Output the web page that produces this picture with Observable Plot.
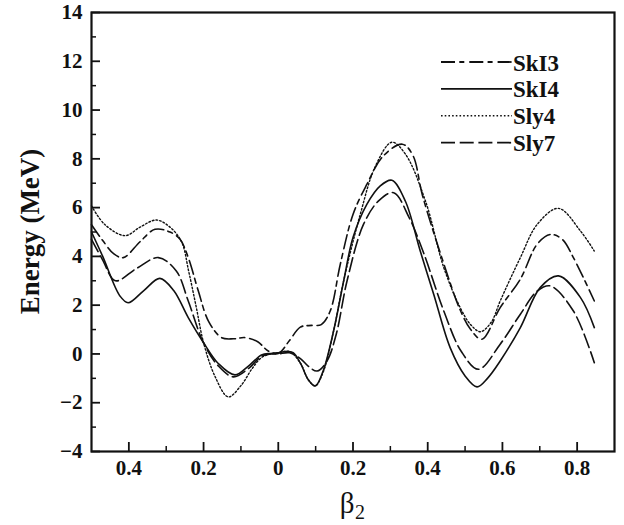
<!DOCTYPE html>
<html>
<head>
<meta charset="utf-8">
<script src="https://cdn.jsdelivr.net/npm/d3@7"></script>
<script src="https://cdn.jsdelivr.net/npm/@observablehq/plot@0.6"></script>
<style>
  body { margin: 0; background: #fff; }
</style>
</head>
<body>
<div id="chart"></div>
<script>
// ---- data ----
const seriesNames = ["SkI3", "SkI4", "Sly4", "Sly7"];

const skI3X = [-0.5,-0.47,-0.44,-0.415,-0.37,-0.33,-0.29,-0.263,-0.241,-0.214,-0.187,-0.152,-0.12,-0.089,-0.055,-0.027,0,0.03,0.059,0.09,0.115,0.139,0.166,0.2,0.237,0.28,0.332,0.36,0.386,0.443,0.487,0.515,0.545,0.594,0.648,0.693,0.728,0.76,0.79,0.846];
const skI3Y = [5.3,4.65,4.1,3.95,4.6,5.11,5.0,4.7,3.95,2.58,1.35,0.67,0.62,0.67,0.5,0.12,0.02,0.55,1.1,1.17,1.2,1.76,3.68,5.72,6.95,8.1,8.6,8.15,6.5,3.7,1.8,1.0,0.6,1.9,3.07,4.5,4.9,4.7,3.95,2.17];

const skI4X = [-0.5,-0.47,-0.424,-0.402,-0.36,-0.317,-0.28,-0.241,-0.2,-0.16,-0.116,-0.08,-0.045,-0.02,0,0.02,0.04,0.06,0.08,0.099,0.12,0.148,0.175,0.2,0.237,0.273,0.304,0.34,0.38,0.416,0.46,0.5,0.532,0.56,0.594,0.648,0.701,0.75,0.809,0.846];
const skI4Y = [5.0,4.0,2.38,2.1,2.6,3.1,2.6,1.49,0.46,-0.4,-0.86,-0.5,-0.04,0.02,0.05,0.1,0.05,-0.4,-1.05,-1.31,-0.7,0.94,2.99,4.77,6.13,6.89,7.12,6.27,4.22,2.45,0.26,-0.9,-1.35,-1.0,-0.29,1.08,2.72,3.2,2.31,1.08];

const sly4X = [-0.5,-0.464,-0.41,-0.37,-0.326,-0.29,-0.259,-0.24,-0.22,-0.2,-0.17,-0.134,-0.1,-0.07,-0.045,-0.02,0,0.03,0.06,0.08,0.099,0.12,0.148,0.175,0.219,0.26,0.304,0.34,0.394,0.443,0.487,0.515,0.541,0.57,0.594,0.648,0.693,0.75,0.809,0.846];
const sly4Y = [6.07,5.3,4.85,5.2,5.49,5.2,4.6,3.4,1.95,0.46,-0.9,-1.76,-1.3,-0.6,-0.15,0,0.05,0.1,-0.4,-1.05,-1.31,-0.75,0.94,3.0,5.7,7.7,8.68,8.2,6.27,3.54,1.9,1.2,0.91,1.3,2.17,3.95,5.31,5.97,5.04,4.22];

const sly7X = [-0.5,-0.47,-0.436,-0.38,-0.321,-0.273,-0.241,-0.2,-0.16,-0.12,-0.08,-0.045,-0.02,0,0.03,0.06,0.08,0.104,0.13,0.155,0.184,0.228,0.27,0.309,0.35,0.39,0.443,0.49,0.536,0.594,0.648,0.693,0.728,0.79,0.846];
const sly7Y = [4.7,3.85,3.0,3.5,3.95,3.4,2.17,0.45,-0.5,-0.94,-0.6,-0.1,0,0,0.05,-0.2,-0.5,-0.7,-0.3,0.8,2.99,5.31,6.3,6.61,5.6,4.1,1.76,0.1,-0.63,0.4,1.63,2.58,2.79,1.76,-0.36];

const xMajorTicks = [-0.4,-0.2,0,0.2,0.4,0.6,0.8];
const xMinorTicks = [-0.3,-0.1,0.1,0.3,0.5,0.7];
const yMajorTicks = [-4,-2,0,2,4,6,8,10,12,14];
const yMinorTicks = [-3,-1,1,3,5,7,9,11,13];
const yLabel = "Energy (MeV)";

// ---- styles ----
const dashes = {SkI3: "14,4.3,5,5", SkI4: null, Sly4: "1.6,2.1", Sly7: "14,4.7"};
const W = 624, H = 525, mL = 91, mR = 10, mT = 12, mB = 74;
const plotW = W - mL - mR, plotH = H - mT - mB;
const serif = "'Liberation Serif', 'Times New Roman', serif";

const table = [];
[[seriesNames[0], skI3X, skI3Y], [seriesNames[1], skI4X, skI4Y], [seriesNames[2], sly4X, sly4Y], [seriesNames[3], sly7X, sly7Y]]
  .forEach(([name, xs, ys]) => xs.forEach((x, i) => table.push({series: name, x, y: ys[i]})));

const fmtX = d => String(Math.abs(Math.round(d * 10) / 10));
const fmtY = d => d < 0 ? "\u2212" + (-d) : String(d);

function annotations(index, scales, values, dims) {
  const g = d3.create("svg:g");
  // legend
  const x1 = dims.width - dims.marginRight - 173;
  const x2 = x1 + 71;
  const y0 = dims.marginTop + 50;
  seriesNames.forEach((name, i) => {
    const y = y0 + i * 26.9;
    g.append("line").attr("x1", x1).attr("x2", x2).attr("y1", y).attr("y2", y)
      .attr("stroke", "#111").attr("stroke-width", name === "Sly4" ? 1.5 : 1.8)
      .attr("stroke-dasharray", dashes[name]);
    g.append("text").attr("x", x2 + 1).attr("y", y + 8.5)
      .attr("text-anchor", "start")
      .attr("font-family", serif).attr("font-weight", "bold").attr("font-size", 23)
      .attr("fill", "#111").text(name);
  });
  // y-axis title
  const cy = (dims.marginTop + dims.height - dims.marginBottom) / 2;
  g.append("text")
    .attr("transform", `translate(39,${cy}) rotate(-90)`)
    .attr("text-anchor", "middle")
    .attr("font-family", serif).attr("font-weight", "bold").attr("font-size", 27)
    .attr("fill", "#111").text(yLabel);
  return g.node();
}

const chart = Plot.plot({
  width: W, height: H,
  marginLeft: mL, marginRight: mR, marginTop: mT, marginBottom: mB,
  style: {fontFamily: serif, background: "#fff", color: "#111"},
  x: {domain: [-0.5, 0.9]},
  y: {domain: [-4, 14]},
  marks: [
    ...seriesNames.map(name => Plot.line(table.filter(d => d.series === name), {
      x: "x", y: "y", curve: "catmull-rom", stroke: "#111",
      strokeWidth: name === "Sly4" ? 1.4 : 1.6,
      strokeDasharray: dashes[name]
    })),
    Plot.ruleX(xMajorTicks, {x: d => d, insetTop: plotH - 9, strokeWidth: 1.8}),
    Plot.ruleX(xMinorTicks, {x: d => d, insetTop: plotH - 5, strokeWidth: 1.5}),
    Plot.ruleY(yMajorTicks, {y: d => d, insetRight: plotW - 9, strokeWidth: 1.8}),
    Plot.ruleY(yMinorTicks, {y: d => d, insetRight: plotW - 5, strokeWidth: 1.5}),
    Plot.axisX({ticks: xMajorTicks, tickSize: 0, tickPadding: 9, tickFormat: fmtX, label: null,
      fontSize: 21, fontWeight: "bold", fontFamily: serif}),
    Plot.axisY({ticks: yMajorTicks, tickSize: 0, tickPadding: 9, tickFormat: fmtY, label: null,
      fontSize: 21, fontWeight: "bold", fontFamily: serif}),
    Plot.frame({strokeWidth: 2.2}),
    Plot.text(["\u03B2"], {frameAnchor: "bottom", lineAnchor: "bottom", textAnchor: "middle",
      dx: -6, dy: 61, fontSize: 29, fontFamily: serif}),
    Plot.text(["2"], {frameAnchor: "bottom", lineAnchor: "bottom", textAnchor: "start",
      dx: 2, dy: 67, fontSize: 20, fontFamily: serif}),
    annotations
  ]
});
document.getElementById("chart").appendChild(chart);
</script>
</body>
</html>
